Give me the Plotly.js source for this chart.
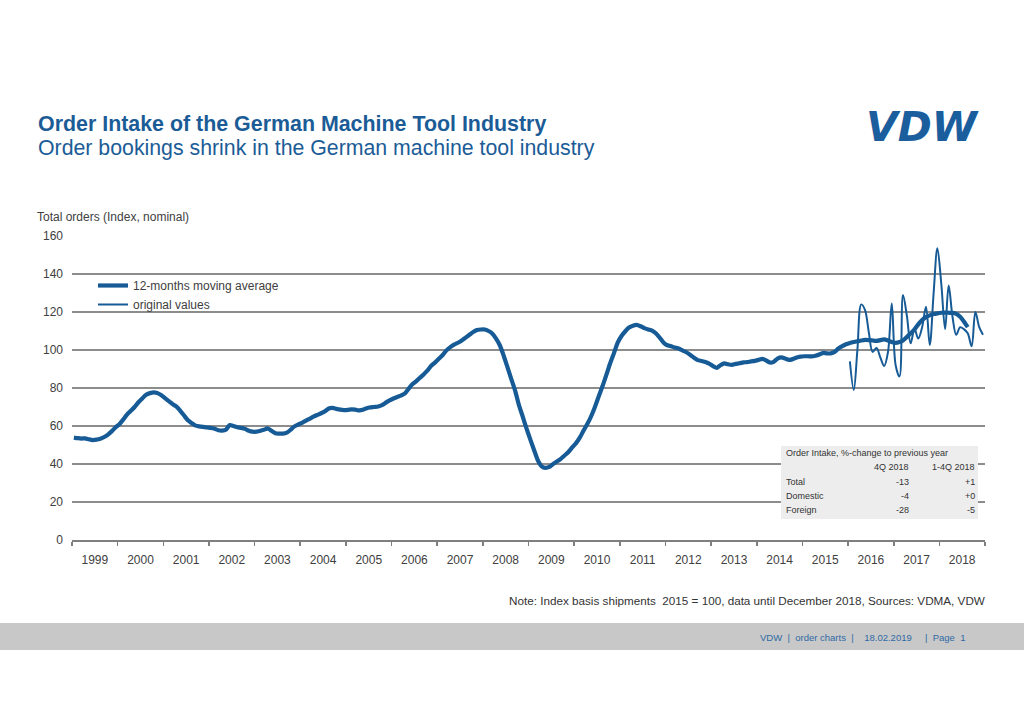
<!DOCTYPE html>
<html>
<head>
<meta charset="utf-8">
<script src="https://cdn.plot.ly/plotly-3.0.1.min.js"></script>
<style>html,body{margin:0;padding:0;background:#fff;}#chart{width:1024px;height:724px;}</style>
</head>
<body>
<div id="chart"></div>
<script>
// ---- Data ----
// 12-months moving average, monthly from Jan 1999 (values by year)
const maYears = [1999,2000,2001,2002,2003,2004,2005,2006,2007,2008,2009,2010,2011,2012,2013,2014,2015,2016,2017,2018];
const ma1999 = [53.9,53.6,53.4,53.5,53.0,52.6,52.8,53.3,54.2,55.5,57.3,59.3];
const ma2000 = [61.0,63.5,66.0,68.0,70.0,72.5,74.5,76.5,77.3,77.7,77.3,76.2];
const ma2001 = [74.5,73.0,71.5,70.2,68.0,65.5,63.0,61.5,60.2,59.8,59.5,59.2];
const ma2002 = [59.0,58.5,57.8,57.6,58.0,60.5,60.0,59.3,59.0,58.5,57.5,57.0];
const ma2003 = [57.0,57.5,58.0,58.7,57.5,56.2,56.0,56.0,56.5,58.0,59.8,60.8];
const ma2004 = [61.7,62.8,63.8,64.9,65.8,66.7,67.7,69.2,69.5,69.0,68.6,68.4];
const ma2005 = [68.5,68.8,68.6,68.2,68.5,69.4,69.8,70.0,70.3,71.0,72.3,73.5];
const ma2006 = [74.5,75.3,76.0,77.0,79.5,82.0,83.5,85.4,87.3,89.3,91.8,93.5];
const ma2007 = [95.5,97.5,99.8,101.5,102.8,103.8,105.0,106.5,108.0,109.5,110.5,110.8];
const ma2008 = [110.8,110.0,108.7,106.0,102.5,97.0,91.0,84.7,78.5,71.0,64.8,58.6];
const ma2009 = [52.7,47.0,42.0,38.8,38.0,38.5,40.0,41.3,42.7,44.5,46.3,48.7];
const ma2010 = [51.0,54.0,57.5,61.0,65.0,70.0,75.5,81.0,87.0,93.0,98.5,104.0];
const ma2011 = [107.5,110.0,111.8,112.8,113.2,112.5,111.5,110.8,110.2,108.8,106.5,104.0];
const ma2012 = [102.5,102.0,101.3,100.8,99.8,98.8,97.5,96.0,94.7,94.2,93.7,92.8];
const ma2013 = [91.5,90.6,92.0,93.0,92.5,92.2,92.7,93.0,93.5,93.6,94.0,94.3];
const ma2014 = [94.8,95.3,94.5,93.4,93.8,95.5,96.1,95.5,94.8,95.2,96.0,96.5];
const ma2015 = [96.7,96.7,96.6,97.0,97.6,98.5,98.2,98.2,99.0,100.8,102.0,103.0];
const ma2016 = [103.7,104.2,104.6,105.0,105.3,105.2,105.0,104.8,105.2,105.6,105.0,104.2];
const ma2017 = [103.8,104.2,105.0,106.8,108.8,110.8,113.5,115.8,117.3,118.2,118.9,119.3];
const ma2018 = [119.6,119.7,119.6,119.5,119.0,117.5,115.0,112.0];
const maByYear = [ma1999,ma2000,ma2001,ma2002,ma2003,ma2004,ma2005,ma2006,ma2007,ma2008,ma2009,ma2010,ma2011,ma2012,ma2013,ma2014,ma2015,ma2016,ma2017,ma2018];

// original monthly values, Jan 2016 - Dec 2018
const origYears = [2016,2017,2018];
const orig2016 = [94,79,100,124,121,109,99,101,96,91.6,99,124.5];
const orig2017 = [92,86,129,118,103.5,111,106,112,122.8,102.6,130,153.5];
const orig2018 = [135,111,134,117.5,108,112,111,108.8,102,120,112,108];
const origByYear = [orig2016,orig2017,orig2018];

// table
const tableTitle = "Order Intake, %-change to previous year";
const tableCols = ["4Q 2018","1-4Q 2018"];
const tableRows = ["Total","Domestic","Foreign"];
const tableQ4 = ["-13","-4","-28"];
const tableYear = ["+1","+0","-5"];

const titleText = "Order Intake of the German Machine Tool Industry";
const subtitleText = "Order bookings shrink in the German machine tool industry";
const yLabel = "Total orders (Index, nominal)";
const noteText = "Note: Index basis shipments  2015 = 100, data until December 2018, Sources: VDMA, VDW";
const footerText = "VDW\u00a0\u00a0|\u00a0\u00a0order charts\u00a0\u00a0|\u00a0\u00a0\u00a0\u00a018.02.2019\u00a0\u00a0\u00a0\u00a0\u00a0|\u00a0\u00a0Page\u00a0\u00a01";
const logoText = "VDW";
const seriesNames = ["12-months moving average","original values"];

// ---- build series ----
function buildMonthly(years, byYear){
  const x=[], y=[];
  years.forEach((yr,i)=>{
    byYear[i].forEach((v,m)=>{
      x.push(yr+"-"+String(m+1).padStart(2,"0")+"-16");
      y.push(v);
    });
  });
  return {x,y};
}
const ma = buildMonthly(maYears, maByYear);
const og = buildMonthly(origYears, origByYear);

const BLUE = "#175b96";
const FONT = "Liberation Sans, Arial, sans-serif";
const L=72, R=985, T=236, B=540;
const X = px => (px-L)/(R-L);
const Y = py => (B-py)/(B-T);

const traces = [
  {x: ma.x, y: ma.y, name: seriesNames[0], type:"scatter", mode:"lines",
   line:{color:BLUE, width:4.2, shape:"spline", smoothing:0.6}, hoverinfo:"x+y"},
  {x: og.x, y: og.y, name: seriesNames[1], type:"scatter", mode:"lines",
   line:{color:BLUE, width:2, shape:"spline", smoothing:1}, hoverinfo:"x+y"}
];

const ann = [];
function txt(text, px, py, size, opts){
  ann.push(Object.assign({text:text, xref:"paper", yref:"paper", x:X(px), y:Y(py),
    showarrow:false, xanchor:"left", yanchor:"middle", borderpad:0, borderwidth:0,
    font:{family:FONT, size:size, color:"#404040"}}, opts||{}));
}
txt(subtitleText, 38, 148, 21.3, {font:{family:FONT, size:21.3, color:"#1b5c97"}});
txt(yLabel, 37, 217, 12);
txt(noteText, 985, 600, 11.7, {xanchor:"right", font:{family:FONT, size:11.7, color:"#333"}});
txt(footerText, 760, 637, 9.5, {font:{family:FONT, size:9.5, color:"#2f6aa5"}});
// logo
txt("<b><i>"+logoText+"</i></b>", 922, 127, 41, {xanchor:"center", font:{family:"DejaVu Sans, sans-serif", size:41, color:"#1a5e9e"}});
// table
const tf = {family:FONT, size:9, color:"#333"};
txt(tableTitle, 786, 453, 9, {font:tf});
txt(tableCols[0], 909, 467, 9, {xanchor:"right", font:tf});
txt(tableCols[1], 975, 467, 9, {xanchor:"right", font:tf});
tableRows.forEach((r,i)=>{
  const yy = 482 + i*14;
  txt(r, 786, yy, 9, {font:tf});
  txt(tableQ4[i], 909, yy, 9, {xanchor:"right", font:tf});
  txt(tableYear[i], 975, yy, 9, {xanchor:"right", font:tf});
});

const shapes = [
  {type:"rect", xref:"paper", yref:"paper", x0:X(-10), x1:X(1040), y0:Y(650), y1:Y(623),
   fillcolor:"#c8c8c8", line:{width:0}, layer:"below"},
  {type:"rect", xref:"paper", yref:"paper", x0:X(781), x1:X(978), y0:Y(519), y1:Y(446),
   fillcolor:"#ededed", line:{width:0}, layer:"above"}
];

const layout = {
  width:1024, height:724,
  margin:{l:L, r:1024-R, t:T, b:724-B, pad:0},
  paper_bgcolor:"#fff", plot_bgcolor:"#fff",
  font:{family:FONT, size:12, color:"#404040"},
  title:{text:"<b>"+titleText+"</b>", xref:"container", yref:"container",
    x:38/1024, xanchor:"left", y:1-124/724, yanchor:"middle",
    font:{family:FONT, size:21.4, color:"#1b5c97"}},
  showlegend:true,
  legend:{x:X(93), y:Y(271), xanchor:"left", yanchor:"top", bgcolor:"rgba(0,0,0,0)",
    font:{family:FONT, size:12, color:"#404040"}, tracegroupgap:0, itemwidth:30},
  xaxis:{type:"date", range:["1999-01-01","2019-01-01"], dtick:"M12", tick0:"1999-01-01",
    tickformat:"%Y", ticklabelmode:"period", showgrid:false, zeroline:false,
    showline:true, linecolor:"#7f7f7f", linewidth:1.5, ticks:"outside", ticklen:4,
    tickcolor:"#7f7f7f", tickwidth:1.5, tickfont:{family:FONT, size:12, color:"#404040"},
    ticklabelstandoff:4, fixedrange:true},
  yaxis:{range:[0,160], dtick:20, tick0:0, showgrid:true, gridcolor:"#8c8c8c", gridwidth:2,
    zeroline:false, showline:false, ticks:"", tickfont:{family:FONT, size:12, color:"#404040"},
    ticklabelstandoff:8, fixedrange:true},
  annotations:ann,
  shapes:shapes
};

Plotly.newPlot("chart", traces, layout, {displayModeBar:false, staticPlot:true});
</script>
</body>
</html>
